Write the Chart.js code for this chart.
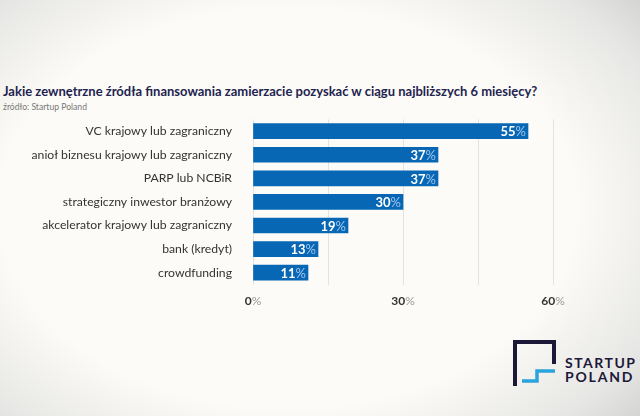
<!DOCTYPE html>
<html lang="pl">
<head>
<meta charset="UTF-8">
<title>Źródła finansowania</title>
<script src="https://cdn.jsdelivr.net/npm/chart.js"></script>
<style>
  html, body { margin: 0; padding: 0; }
  body {
    width: 640px; height: 416px; position: relative; overflow: hidden;
    font-family: Lato, "Noto Sans", sans-serif;
    background: radial-gradient(ellipse 75% 80% at 45% 50%, #fcfbf7 60%, #e6e6e4 85%, #cfcfcf 100%);
  }
  #title {
    position: absolute; left: 3px; top: 83px; margin: 0;
    font-size: 13px; font-weight: 700; color: #1e2350; white-space: nowrap;
  }
  #source {
    position: absolute; left: 3px; top: 102px;
    font-size: 8.6px; color: #777; white-space: nowrap;
  }
  #wrap { position: absolute; left: 0; top: 98.5px; width: 640px; height: 215.5px; }
  #logo { position: absolute; left: 510px; top: 337px; }
</style>
</head>
<body>

<h2 id="title">Jakie zewnętrzne źródła finansowania zamierzacie pozyskać w ciągu najbliższych 6 miesięcy?</h2>
<div id="source">źródło: Startup Poland</div>
<div id="wrap"><canvas id="finChart"></canvas></div>

<svg id="logo" width="130" height="52" viewBox="0 0 130 52">
  <polyline points="5,49 5,5 44,5 44,27" fill="none" stroke="#1c1838" stroke-width="4"/>
  <polyline points="12,44 27,44 27,34 45,34" fill="none" stroke="#2aa4dc" stroke-width="3.5"/>
  <text x="55" y="31" font-family="Lato, sans-serif" font-size="14" font-weight="700" letter-spacing="1.5" fill="#1c1838">STARTUP</text>
  <text x="55" y="45" font-family="Lato, sans-serif" font-size="14" font-weight="700" letter-spacing="1.8" fill="#1c1838">POLAND</text>
</svg>

<script>
    const categories = [
        'VC krajowy lub zagraniczny',
        'anioł biznesu krajowy lub zagraniczny',
        'PARP lub NCBiR',
        'strategiczny inwestor branżowy',
        'akcelerator krajowy lub zagraniczny',
        'bank (kredyt)',
        'crowdfunding'
    ];
    const values = [55, 37, 37, 30, 19, 13, 11];
    const tickLabels = [0, 30, 60];

    // etykiety: liczba pogrubiona + znak % jaśniejszy
    const labelPlugin = {
        id: 'labels',
        afterDatasetsDraw(chart) {
            const c = chart.ctx;
            const meta = chart.getDatasetMeta(0);
            c.save();
            c.textBaseline = 'middle';
            meta.data.forEach((bar, i) => {
                c.font = '13px Lato';
                const pw = c.measureText('%').width;
                c.fillStyle = '#9fc6ee';
                c.textAlign = 'right';
                c.fillText('%', bar.x - 2, bar.y + 1);
                c.font = 'bold 13px Lato';
                c.fillStyle = '#ffffff';
                c.fillText(String(values[i]), bar.x - 2 - pw, bar.y + 1);
            });
            // osie X
            const xs = chart.scales.x;
            const y = chart.chartArea.bottom + 17;
            tickLabels.forEach(v => {
                const x = xs.getPixelForValue(v);
                c.font = 'bold 12px Lato';
                const nw = c.measureText(String(v)).width;
                c.font = '12px Lato';
                const pw = c.measureText('%').width;
                const left = x - (nw + pw) / 2;
                c.textAlign = 'left';
                c.font = 'bold 12px Lato';
                c.fillStyle = '#333';
                c.fillText(String(v), left, y);
                c.font = '12px Lato';
                c.fillStyle = '#999';
                c.fillText('%', left + nw, y);
            });
            c.restore();
        }
    };

    const ctx = document.getElementById('finChart').getContext('2d');
    const chart = new Chart(ctx, {
        type: 'bar',
        data: {
            labels: categories,
            datasets: [{
                data: values,
                backgroundColor: '#0767b5',
                barThickness: 15
            }]
        },
        options: {
            indexAxis: 'y',
            responsive: true,
            maintainAspectRatio: false,
            animation: false,
            layout: { padding: { left: 0, right: 87, top: 0, bottom: 0 } },
            plugins: { legend: { display: false }, tooltip: { enabled: false } },
            scales: {
                x: {
                    min: 0, max: 60,
                    ticks: { stepSize: 15, display: false },
                    grid: { color: '#e3e3e0', drawTicks: false, lineWidth: 1 },
                    border: { display: false },
                    afterFit(s) { s.height = 30; }
                },
                y: {
                    grid: { display: false },
                    border: { display: false },
                    ticks: { color: '#333', font: { family: 'Lato', size: 12.2 }, padding: 13 },
                    afterFit(s) { s.width = 253; }
                }
            }
        },
        plugins: [labelPlugin]
    });
</script>

</body>
</html>
